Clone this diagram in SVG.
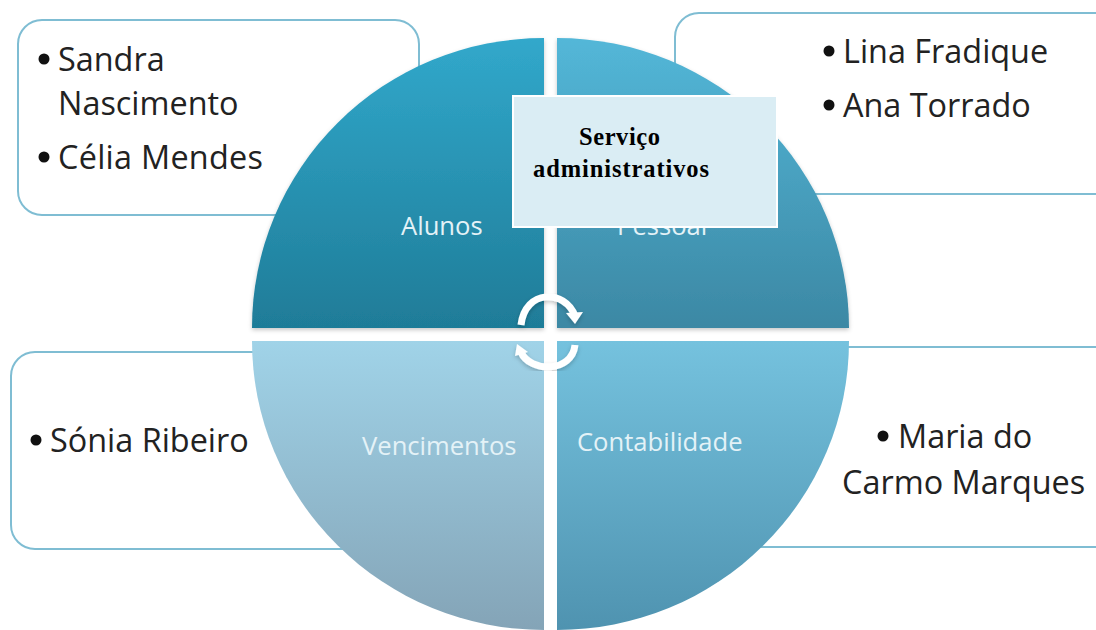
<svg xmlns="http://www.w3.org/2000/svg" width="1096" height="630" viewBox="0 0 1096 630">
<style>
.box{fill:#fff;stroke:#7fbdd3;stroke-width:2}
.t{font-family:"Open Sans","Noto Sans",sans-serif;font-size:32.4px;fill:#222}
.q{font-family:"Open Sans","Noto Sans",sans-serif;font-size:25.6px;fill:#e4f2f7}
.s{font-family:"Liberation Serif",serif;font-size:24.5px;font-weight:bold;fill:#000}
.arc{fill:none;stroke:#fff;stroke-width:7}
.sh{filter:url(#sh)}
</style>
<defs>
<filter id="sh" x="-5%" y="-5%" width="110%" height="110%"><feDropShadow dx="0" dy="2" stdDeviation="2" flood-color="#000" flood-opacity=".22"/></filter>
<linearGradient id="g1" x1="0" y1="0" x2="0" y2="1"><stop offset="0" stop-color="#31a8cb"/><stop offset="1" stop-color="#1f7c98"/></linearGradient>
<linearGradient id="g2" x1="0" y1="0" x2="0" y2="1"><stop offset="0" stop-color="#53b7d8"/><stop offset="1" stop-color="#3c88a4"/></linearGradient>
<linearGradient id="g3" x1="0" y1="0" x2="0" y2="1"><stop offset="0" stop-color="#a0d3e8"/><stop offset="1" stop-color="#84a4b7"/></linearGradient>
<linearGradient id="g4" x1="0" y1="0" x2="0" y2="1"><stop offset="0" stop-color="#75c2de"/><stop offset="1" stop-color="#4f93b0"/></linearGradient>
</defs>
<rect width="1096" height="630" fill="#fff"/>
<g id="box-alunos"><rect class="box" x="18" y="20" width="401" height="195" rx="24"/>
<circle cx="44" cy="59" r="5.5" fill="#111"/><text class="t" x="58" y="71">Sandra</text><text class="t" x="58" y="115">Nascimento</text>
<circle cx="44" cy="157" r="5.5" fill="#111"/><text class="t" x="58" y="169" textLength="205" lengthAdjust="spacing">Célia Mendes</text></g>
<g id="box-pessoal"><rect class="box" x="675" y="13" width="445" height="181" rx="24"/>
<circle cx="829" cy="51" r="5.5" fill="#111"/><text class="t" x="843" y="63">Lina Fradique</text>
<circle cx="829" cy="105" r="5.5" fill="#111"/><text class="t" x="843" y="117">Ana Torrado</text></g>
<g id="box-vencimentos"><rect class="box" x="11" y="352" width="420" height="197" rx="24"/>
<circle cx="36" cy="440" r="5.5" fill="#111"/><text class="t" x="50" y="452">Sónia Ribeiro</text></g>
<g id="box-contabilidade"><rect class="box" x="680" y="347" width="440" height="200" rx="24"/>
<circle cx="883" cy="436" r="5.5" fill="#111"/><text class="t" x="898" y="448">Maria do</text><text class="t" x="842" y="494">Carmo Marques</text></g>
<g id="alunos"><path class="sh" d="M544 328H252A292 290 0 0 1 544 38Z" fill="url(#g1)"/><text class="q" x="401" y="235">Alunos</text></g>
<g id="pessoal"><path class="sh" d="M557 328H849A292 290 0 0 0 557 38Z" fill="url(#g2)"/><text class="q" x="617" y="235">Pessoal</text></g>
<g id="vencimentos"><path d="M544 341H252A292 289 0 0 0 544 630Z" fill="url(#g3)"/><text class="q" x="362" y="455">Vencimentos</text></g>
<g id="contabilidade"><path d="M557 341H849A292 289 0 0 1 557 630Z" fill="url(#g4)"/><text class="q" x="577" y="451">Contabilidade</text></g>
<g id="connectors" class="sh">
<path class="arc" d="M521 325C525 289 565 289 575 316" stroke-width="8"/><path d="M566 313L583 312L575 324Z" fill="#fff"/>
<path class="arc" d="M575 345C572 373 530 373 521 352"/><path d="M517 344L515 356L528 352Z" fill="#fff"/>
</g>
<g id="servico"><rect x="513" y="96" width="264" height="131" fill="#daedf4" stroke="#fff" stroke-width="2"/>
<text class="s" x="579" y="145" textLength="81" lengthAdjust="spacing">Serviço</text><text class="s" x="533" y="177" textLength="176" lengthAdjust="spacing">administrativos</text></g>
</svg>
